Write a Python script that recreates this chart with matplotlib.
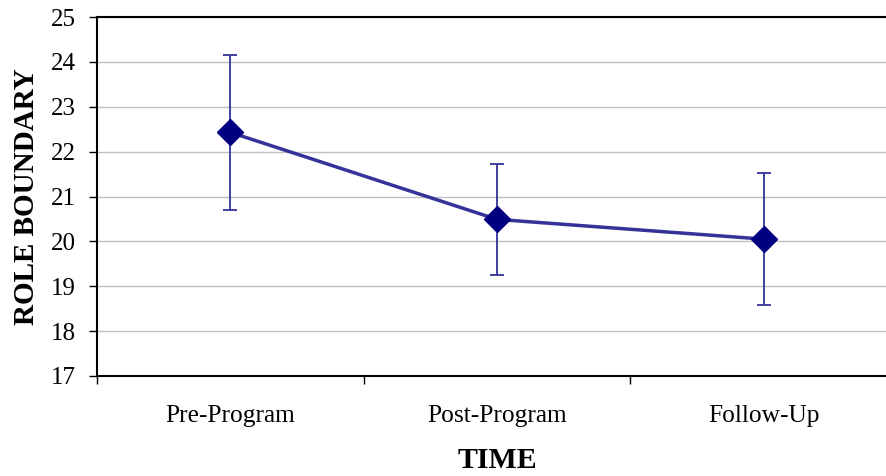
import numpy as np
import matplotlib.pyplot as plt

# --- dados ---
categorias = ['Pre-Program', 'Post-Program', 'Follow-Up']
medias = [22.43, 20.49, 20.05]
erros = [1.72, 1.24, 1.47]

plt.rcParams['font.family'] = ['Liberation Serif', 'DejaVu Serif']

fig = plt.figure(figsize=(8.86, 4.76), dpi=100)
# o eixo continua um pouco além da borda direita, como no original
ax = fig.add_axes([97 / 886, 1 - 376 / 476, 800 / 886, 359 / 476])

x = np.arange(len(categorias)) + 0.5
ax.errorbar(x, medias, yerr=erros, fmt='none', ecolor='#333399',
            elinewidth=1.3, capsize=5, capthick=1.3, zorder=3)
ax.plot(x, medias, color='#333399', lw=2.5, zorder=4)
ax.plot(x, medias, 'D', color='#000080', ms=13, zorder=5)

ax.set_xlim(0, 3)
ax.set_ylim(17, 25)
ax.set_yticks(np.arange(17, 26, 1))
ax.set_xticks([0, 1, 2, 3])
ax.set_xticklabels([])
ax.set_xticks(x, minor=True)
ax.set_xticklabels(categorias, minor=True)
ax.tick_params(axis='x', which='minor', length=0, pad=21, labelsize=18.3)
ax.tick_params(axis='x', which='major', length=6, width=1, direction='out')
ax.tick_params(axis='y', length=6, width=1, direction='out', labelsize=18, pad=9)

ax.yaxis.grid(True, color='#c0c0c0', lw=1)
ax.set_axisbelow(True)
for s in ['left', 'bottom', 'top']:
    ax.spines[s].set_linewidth(1.5)
    ax.spines[s].set_color('black')
ax.spines['right'].set_visible(False)

ax.set_ylabel('ROLE BOUNDARY', fontsize=21, fontweight='bold', labelpad=8)
ax.set_xlabel('TIME', fontsize=21.5, fontweight='bold', labelpad=14)

fig.savefig('out.png', dpi=100)
